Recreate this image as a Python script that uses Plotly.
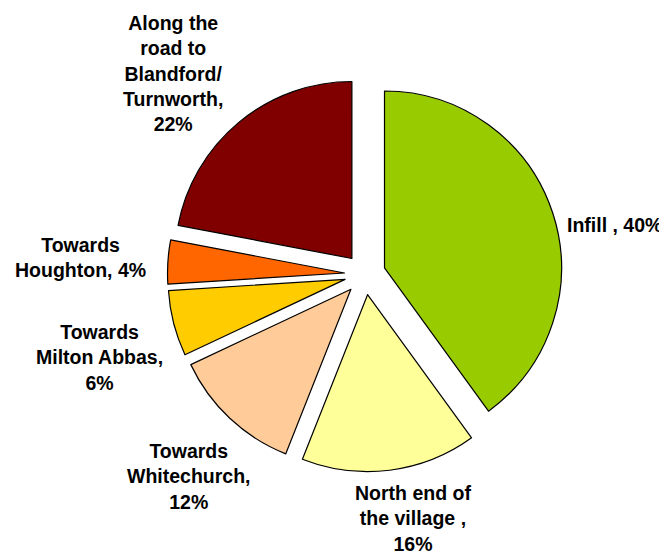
import plotly.graph_objects as go

categories = ["Infill", "North end of the village", "Towards Whitechurch",
              "Towards Milton Abbas", "Towards Houghton",
              "Along the road to Blandford/ Turnworth"]
values = [40, 16, 12, 6, 4, 22]
colors = ["#99CC00", "#FFFF99", "#FFCC99", "#FFCC00", "#FF6600", "#800000"]
label_texts = ["Infill , 40%",
               "North end of<br>the village ,<br>16%",
               "Towards<br>Whitechurch,<br>12%",
               "Towards<br>Milton Abbas,<br>6%",
               "Towards<br>Houghton, 4%",
               "Along the<br>road to<br>Blandford/<br>Turnworth,<br>22%"]
# label centres in window pixels (x, y from top)
label_pos = [(614, 225), (413, 518), (189, 477), (99, 357), (80, 258), (173, 73)]

OFF = 8                      # page body margin
W, H = 667 - OFF, 554 - OFF  # figure size
PULL = 0.116

fig = go.Figure(go.Pie(
    labels=categories,
    values=values,
    sort=False,
    direction="clockwise",
    rotation=0,
    pull=[PULL] * len(values),
    marker=dict(colors=colors, line=dict(color="black", width=1.2)),
    textinfo="none",
    hoverinfo="label+percent",
    domain=dict(x=[0.2420, 0.8414], y=[0.1505, 0.8740]),
    showlegend=False,
))

for txt, (px, py) in zip(label_texts, label_pos):
    fig.add_annotation(
        text=txt, x=(px - OFF) / W, y=1 - (py - OFF) / H,
        xref="paper", yref="paper",
        xanchor="center", yanchor="middle", align="center", showarrow=False,
        font=dict(family="Liberation Sans, Arial, sans-serif", size=19.5,
                  color="black", weight="bold"),
    )

fig.update_layout(
    width=W, height=H,
    margin=dict(l=0, r=0, t=0, b=0),
    paper_bgcolor="white", plot_bgcolor="white",
)

fig.write_html("out.html")
